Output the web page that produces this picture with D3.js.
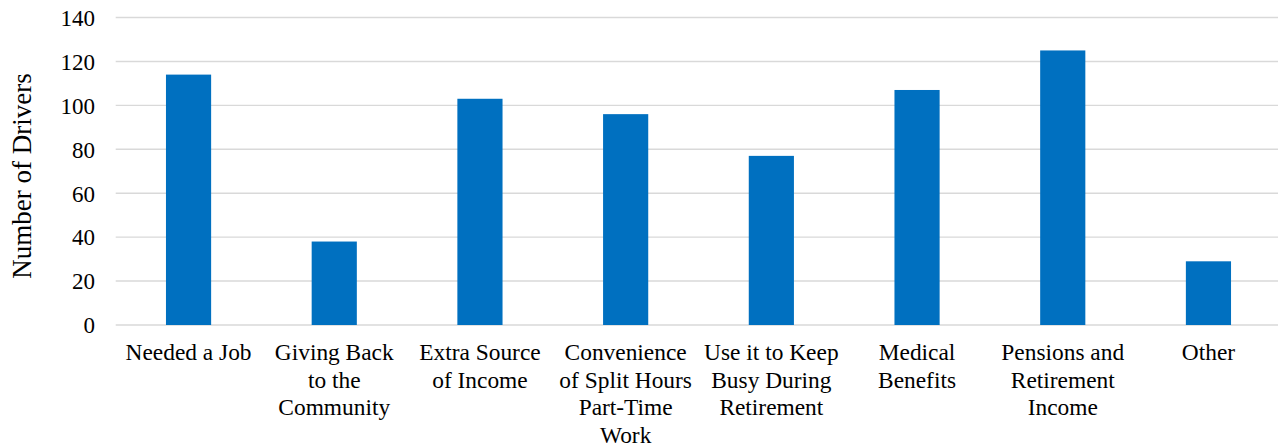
<!DOCTYPE html>
<html>
<head>
<meta charset="utf-8">
<script src="https://cdn.jsdelivr.net/npm/d3@7"></script>
<style>
  html, body { margin: 0; padding: 0; background: #fff; }
  svg { display: block; }
</style>
</head>
<body>
<svg id="chart" width="1278" height="448"></svg>
<script>
const categories = [
  ["Needed a Job"],
  ["Giving Back", "to the", "Community"],
  ["Extra Source", "of Income"],
  ["Convenience", "of Split Hours", "Part-Time", "Work"],
  ["Use it to Keep", "Busy During", "Retirement"],
  ["Medical", "Benefits"],
  ["Pensions and", "Retirement", "Income"],
  ["Other"]
];
const values = [114, 38, 103, 96, 77, 107, 125, 29];
const yTicks = [0, 20, 40, 60, 80, 100, 120, 140];
const yTitle = "Number of Drivers";

const svg = d3.select("#chart");
const plotLeft = 115.7, plotRight = 1281.3, plotTop = 17.5, plotBottom = 325;

const keys = categories.map((c, i) => i);
const x = d3.scaleBand().domain(keys).range([plotLeft, plotRight]).paddingInner(0.69).paddingOuter(0.345);
const y = d3.scaleLinear().domain([0, 140]).range([plotBottom, plotTop]);

// gridlines
svg.append("g").selectAll("line").data(yTicks).join("line")
  .attr("x1", plotLeft).attr("x2", 1278)
  .attr("y1", d => y(d)).attr("y2", d => y(d))
  .attr("stroke", "#d9d9d9").attr("stroke-width", 1.4);

// y axis labels
const yAxis = d3.axisLeft(y).tickValues(yTicks).tickSize(0).tickPadding(0);
const gy = svg.append("g").attr("transform", "translate(95,0)").call(yAxis)
  .attr("font-family", "Liberation Serif").attr("font-size", 23);
gy.select(".domain").remove();
gy.selectAll("text").attr("fill", "#000").attr("dy", "0.34em");

// bars
svg.append("g").selectAll("rect").data(values).join("rect")
  .attr("x", (d, i) => x(i))
  .attr("width", x.bandwidth())
  .attr("y", d => y(d))
  .attr("height", d => y(0) - y(d))
  .attr("fill", "#0070C0");

// category labels
const xl = svg.append("g").attr("font-family", "Liberation Serif").attr("font-size", 23.4);
categories.forEach((lines, i) => {
  const cx = x(i) + x.bandwidth() / 2;
  const t = xl.append("text")
    .attr("x", cx)
    .attr("y", 360)
    .attr("text-anchor", "middle")
    .attr("fill", "#000");
  lines.forEach((ln, j) => {
    t.append("tspan").attr("x", cx)
      .attr("y", 360 + j * 27.5).text(ln);
  });
});

// y title
svg.append("text")
  .attr("transform", "translate(22,176) rotate(-90)")
  .attr("text-anchor", "middle")
  .attr("dy", "0.35em")
  .attr("font-family", "Liberation Serif")
  .attr("font-size", 27).attr("fill", "#000")
  .text(yTitle);
</script>
</body>
</html>
